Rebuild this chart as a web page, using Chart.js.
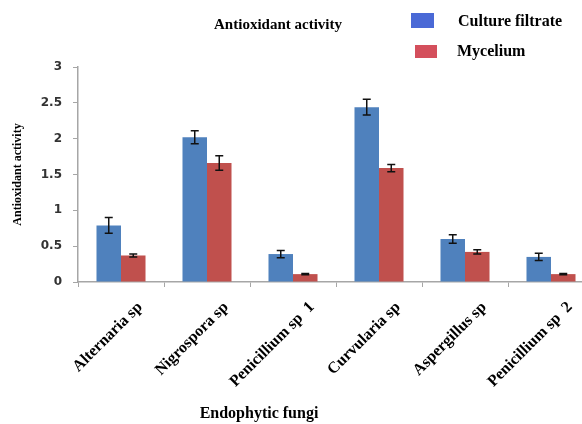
<!DOCTYPE html>
<html>
<head>
<meta charset="utf-8">
<script src="https://cdn.jsdelivr.net/npm/chart.js@4/dist/chart.umd.min.js"></script>
<style>
html,body{margin:0;padding:0;background:#fff;overflow:hidden;width:582px;height:424px;}
#wrap{position:relative;width:600px;height:424px;}
</style>
</head>
<body>
<div id="wrap"><canvas id="c" width="600" height="424"></canvas></div>
<script>
const categories = ['Alternaria sp', 'Nigrospora sp', 'Penicillium sp  1', 'Curvularia sp', 'Aspergillus sp', 'Penicillium sp  2'];
const cultureFiltrate = [0.79, 2.02, 0.39, 2.44, 0.60, 0.35];
const cultureFiltrateErr = [0.11, 0.09, 0.05, 0.11, 0.06, 0.05];
const mycelium = [0.37, 1.66, 0.11, 1.59, 0.42, 0.11];
const myceliumErr = [0.02, 0.10, 0.01, 0.05, 0.03, 0.01];
const seriesNames = ['Culture filtrate', 'Mycelium'];
const chartTitle = 'Antioxidant activity';
const yTitle = 'Antioxidant activity';
const xTitle = 'Endophytic fungi';

const serif = '"Liberation Serif", "Times New Roman", serif';
const errors = [cultureFiltrateErr, myceliumErr];

const errorBars = {
  id: 'errorBars',
  afterDatasetsDraw(chart) {
    const ctx = chart.ctx;
    const ys = chart.scales.y;
    ctx.save();
    ctx.strokeStyle = '#111';
    ctx.lineWidth = 1.5;
    chart.data.datasets.forEach((ds, di) => {
      const meta = chart.getDatasetMeta(di);
      meta.data.forEach((bar, i) => {
        const v = ds.data[i], e = errors[di][i];
        const x = bar.x;
        const yt = ys.getPixelForValue(v + e);
        const yb = ys.getPixelForValue(v - e);
        ctx.beginPath();
        ctx.moveTo(x, yt); ctx.lineTo(x, yb);
        ctx.moveTo(x - 4, yt); ctx.lineTo(x + 4, yt);
        ctx.moveTo(x - 4, yb); ctx.lineTo(x + 4, yb);
        ctx.stroke();
      });
    });
    ctx.restore();
  }
};

const overlay = {
  id: 'overlay',
  afterDraw(chart) {
    const ctx = chart.ctx;
    ctx.save();
    ctx.fillStyle = '#000';
    ctx.textBaseline = 'middle';
    ctx.font = 'bold 15px ' + serif;
    ctx.textAlign = 'center';
    ctx.fillText(chartTitle, 278, 25);
    const legendColors = ['#4A69D6', '#D44F5C'];
    const boxes = [[411, 13, 23, 15], [415, 45, 22, 13]];
    const textPos = [[458, 22], [457, 52]];
    ctx.font = 'bold 16px ' + serif;
    ctx.textAlign = 'left';
    seriesNames.forEach((n, i) => {
      ctx.fillStyle = legendColors[i];
      ctx.fillRect(...boxes[i]);
      ctx.fillStyle = '#000';
      ctx.fillText(n, textPos[i][0], textPos[i][1]);
    });
    ctx.font = 'bold 16px ' + serif;
    ctx.textAlign = 'center';
    ctx.fillText(xTitle, 259, 414);
    ctx.restore();
  }
};

new Chart(document.getElementById('c'), {
  type: 'bar',
  data: {
    labels: categories,
    datasets: [
      { label: seriesNames[0], data: cultureFiltrate, backgroundColor: '#4F81BD', categoryPercentage: 0.57, barPercentage: 1.0 },
      { label: seriesNames[1], data: mycelium, backgroundColor: '#C0504D', categoryPercentage: 0.57, barPercentage: 1.0 }
    ]
  },
  options: {
    responsive: false,
    animation: false,
    devicePixelRatio: 1,
    layout: { padding: { top: 67, left: 0, right: 6, bottom: 0 } },
    plugins: { legend: { display: false }, title: { display: false }, tooltip: { enabled: false } },
    scales: {
      x: {
        afterFit(s) { s.height = 142; },
        grid: { drawOnChartArea: false, tickLength: 5, color: '#a6a6a6', offset: true },
        border: { color: '#a6a6a6', width: 1.5 },
        ticks: {
          autoSkip: false, maxRotation: 45, minRotation: 45, labelOffset: 19, padding: 11,
          color: '#000', font: { family: serif, weight: 'bold', size: 16 }
        }
      },
      y: {
        min: 0, max: 3,
        afterFit(s) { s.width = 78; },
        grid: { drawOnChartArea: false, tickLength: 5, color: '#a6a6a6' },
        border: { color: '#a6a6a6', width: 1.5 },
        ticks: {
          stepSize: 0.5, padding: 11, color: '#333',
          callback: (v) => String(Number(v)),
          font: { family: '"DejaVu Sans", sans-serif', weight: 'bold', size: 12 }
        },
        title: {
          display: true, text: yTitle, color: '#000', padding: { top: 11, bottom: 0 },
          font: { family: serif, weight: 'bold', size: 12 }
        }
      }
    }
  },
  plugins: [errorBars, overlay]
});
</script>
</body>
</html>
